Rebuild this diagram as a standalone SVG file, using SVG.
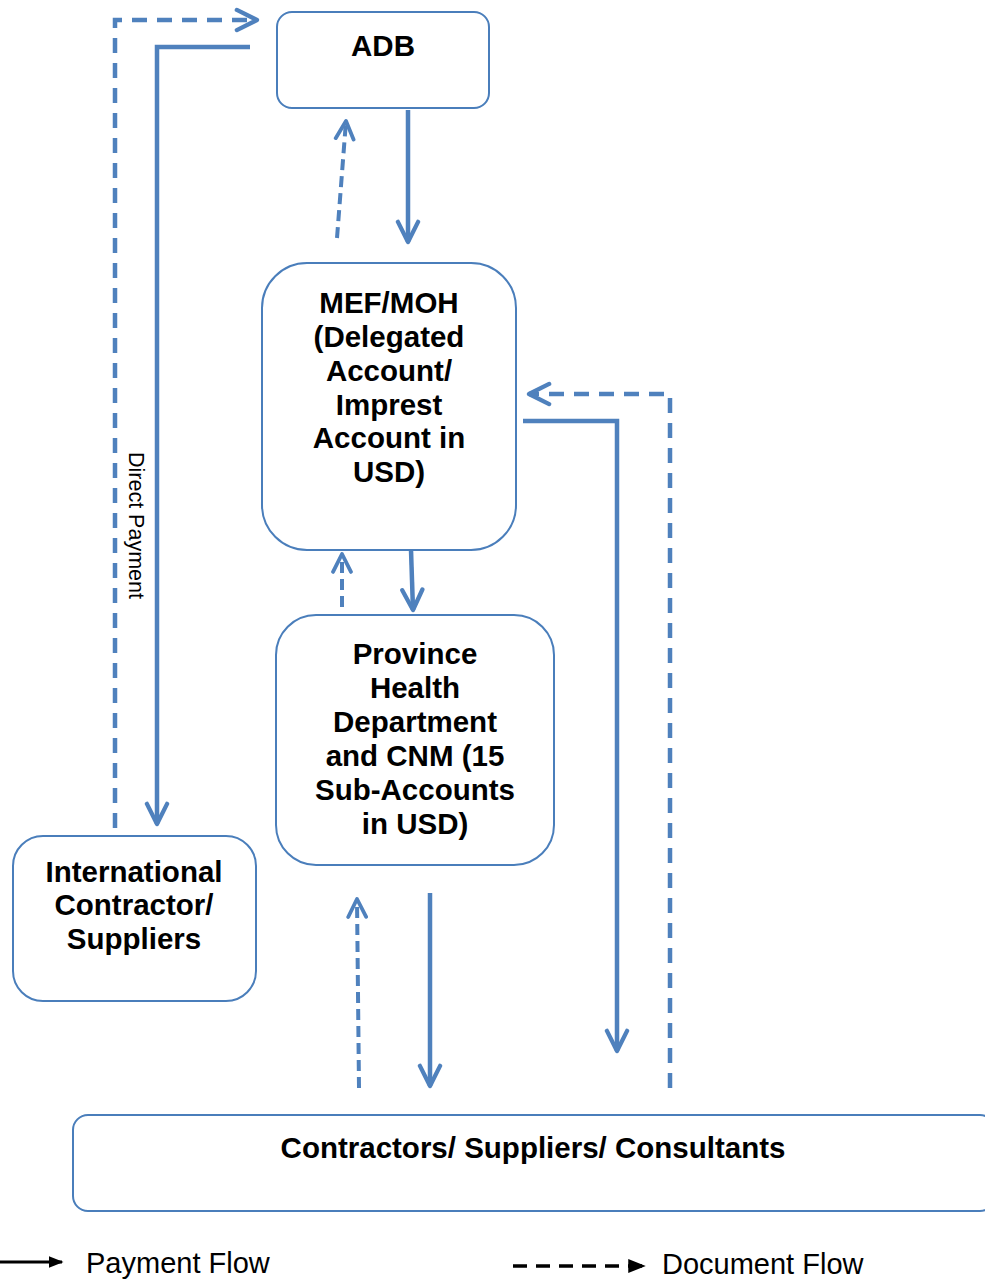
<svg xmlns="http://www.w3.org/2000/svg" width="985" height="1280" viewBox="0 0 985 1280">
<style>
.box{fill:#fff;stroke:#4a7ebb;stroke-width:2}
.t{font-family:"Liberation Sans",Arial,sans-serif;font-weight:bold;font-size:29.5px;fill:#000;text-anchor:middle}
.sol{fill:none;stroke:#4f81bd;stroke-width:4.5}
.dsh{fill:none;stroke:#4f81bd;stroke-width:4.5;stroke-dasharray:15 10}
.dsh2{fill:none;stroke:#4f81bd;stroke-width:4;stroke-dasharray:11 6}
.lg{font-family:"Liberation Sans",Arial,sans-serif;font-size:29px;fill:#000}
</style>
<defs>
<marker id="ah" viewBox="0 0 10 10" refX="9" refY="5" markerWidth="5.6" markerHeight="5.6" orient="auto" markerUnits="strokeWidth">
<path d="M1,1 L9,5 L1,9" fill="none" stroke="#4f81bd" stroke-width="1.7" stroke-linecap="round" stroke-linejoin="round"/>
</marker>
<marker id="bh" viewBox="0 0 10 10" refX="9" refY="5" markerWidth="5" markerHeight="5" orient="auto" markerUnits="strokeWidth">
<path d="M0,1 L10,5 L0,9 Z" fill="#000"/>
</marker>
</defs>
<g id="connectors">
<path class="dsh" d="M115,828 V20 H257" marker-end="url(#ah)"/>
<path class="sol" d="M250,47 H157 V824" marker-end="url(#ah)"/>
<path class="dsh2" d="M337,238 L346,121" marker-end="url(#ah)"/>
<path class="sol" d="M408,110 V242" marker-end="url(#ah)"/>
<path class="sol" d="M411,550 L413,610" marker-end="url(#ah)"/>
<path class="dsh2" d="M342,607 V554" marker-end="url(#ah)"/>
<path class="dsh2" d="M359,1088 L357,899" marker-end="url(#ah)"/>
<path class="sol" d="M430,893 V1086" marker-end="url(#ah)"/>
<path class="sol" d="M523,421 H617 V1051" marker-end="url(#ah)"/>
<path class="dsh" d="M670,1088 V394 H529" marker-end="url(#ah)"/>
<text x="129" y="452" transform="rotate(90 129 452)" font-family="'Liberation Sans',Arial,sans-serif" font-size="21.5px" fill="#000">Direct Payment</text>
</g>
<g id="adb">
<rect class="box" x="277" y="12" width="212" height="96" rx="15"/>
<text class="t" x="383" y="56">ADB</text>
</g>
<g id="mef">
<rect class="box" x="262" y="263" width="254" height="287" rx="45"/>
<text class="t" x="389" y="313">MEF/MOH</text>
<text class="t" x="389" y="347">(Delegated</text>
<text class="t" x="389" y="381">Account/</text>
<text class="t" x="389" y="415">Imprest</text>
<text class="t" x="389" y="448">Account in</text>
<text class="t" x="389" y="482">USD)</text>
</g>
<g id="province">
<rect class="box" x="276" y="615" width="278" height="250" rx="40"/>
<text class="t" x="415" y="664">Province</text>
<text class="t" x="415" y="698">Health</text>
<text class="t" x="415" y="732">Department</text>
<text class="t" x="415" y="766">and CNM (15</text>
<text class="t" x="415" y="800">Sub-Accounts</text>
<text class="t" x="415" y="834">in USD)</text>
</g>
<g id="international">
<rect class="box" x="13" y="836" width="243" height="165" rx="30"/>
<text class="t" x="134" y="882">International</text>
<text class="t" x="134" y="915">Contractor/</text>
<text class="t" x="134" y="949">Suppliers</text>
</g>
<g id="contractors">
<rect class="box" x="73" y="1115" width="922" height="96" rx="15"/>
<text class="t" x="533" y="1158">Contractors/ Suppliers/ Consultants</text>
</g>
<g id="legend">
<line x1="0" y1="1262" x2="62" y2="1262" stroke="#000" stroke-width="3" marker-end="url(#bh)"/>
<text class="lg" x="86" y="1273">Payment Flow</text>
<line x1="513" y1="1266" x2="644" y2="1266" stroke="#000" stroke-width="3.5" stroke-dasharray="14 9" marker-end="url(#bh)"/>
<text class="lg" x="662" y="1274">Document Flow</text>
</g>
</svg>
